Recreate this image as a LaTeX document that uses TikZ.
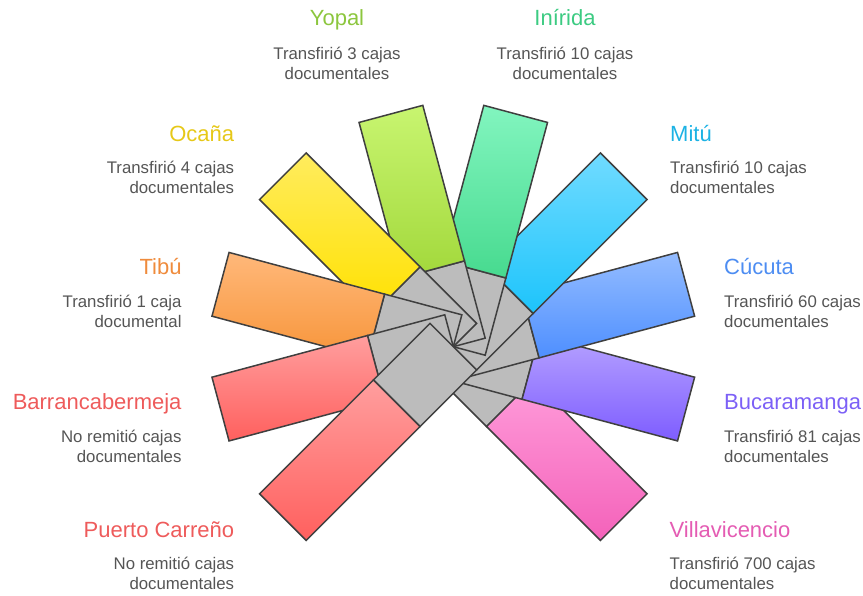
\documentclass[tikz,border=0pt]{standalone}
\usepackage{fontspec}
\setmainfont{Liberation Sans}
\usetikzlibrary{calc}
\definecolor{edgec}{HTML}{3F3F3F}
\definecolor{grayc}{HTML}{BCBCBC}
\definecolor{bodyc}{HTML}{555555}
\definecolor{yopT}{HTML}{C8F570}\definecolor{yopB}{HTML}{A2D83B}
\definecolor{iniT}{HTML}{82F5BF}\definecolor{iniB}{HTML}{47DA8F}
\definecolor{mitT}{HTML}{70DBFF}\definecolor{mitB}{HTML}{1DC4FB}
\definecolor{cucT}{HTML}{94BCFF}\definecolor{cucB}{HTML}{4E8FFF}
\definecolor{bucT}{HTML}{B6A2FF}\definecolor{bucB}{HTML}{7E5DFF}
\definecolor{vilT}{HTML}{FF9CDA}\definecolor{vilB}{HTML}{F462BA}
\definecolor{redT}{HTML}{FF9E9E}\definecolor{redB}{HTML}{FF605E}
\definecolor{tibT}{HTML}{FFB87A}\definecolor{tibB}{HTML}{F7953A}
\definecolor{ocaT}{HTML}{FFEC5E}\definecolor{ocaB}{HTML}{FFE100}
\definecolor{tYop}{HTML}{8CC63E}
\definecolor{tIni}{HTML}{3CCB82}
\definecolor{tOca}{HTML}{E6C818}
\definecolor{tMit}{HTML}{1CB2E4}
\definecolor{tTib}{HTML}{EF8B3C}
\definecolor{tCuc}{HTML}{4D8DF2}
\definecolor{tRed}{HTML}{EE5B5B}
\definecolor{tBuc}{HTML}{7C60F6}
\definecolor{tVil}{HTML}{E45CB3}
\newcommand\fanblade[4]{%
  \path[bladeedge, fill=grayc]
    ($(C)+(#1+90:33)$) coordinate (#2-a)
    -- ($(C)+(#1+90:33)+(#1:80)$) coordinate (#2-b)
    -- ($(C)+(#1-90:33)+(#1:80)$) coordinate (#2-c)
    -- ($(C)+(#1-90:33)$) coordinate (#2-d) -- cycle;
  \path[bladeedge, top color=#3, bottom color=#4]
    (#2-b) -- ($(C)+(#1+90:33)+(#1:241)$) coordinate (#2-e)
    -- ($(C)+(#1-90:33)+(#1:241)$) coordinate (#2-f)
    -- (#2-c) -- cycle;
}
\begin{document}
\begin{tikzpicture}[x=1pt,y=1pt,
  bladeedge/.style={draw=edgec, line width=1.5pt},
  ttl/.style={font=\fontsize{22}{26}\selectfont, inner sep=0pt},
  bdy/.style={font=\fontsize{16.8}{20}\selectfont, text=bodyc, inner sep=0pt}]
\useasboundingbox (0,0) rectangle (863,596);
\coordinate (C) at (453.3,249.3);
\fanblade{-45}{vil}{vilT}{vilB}
\fanblade{-15}{buc}{bucT}{bucB}
\fanblade{15}{cuc}{cucT}{cucB}
\fanblade{45}{mit}{mitT}{mitB}
\fanblade{75}{ini}{iniT}{iniB}
\fanblade{105}{yop}{yopT}{yopB}
\fanblade{135}{oca}{ocaT}{ocaB}
\fanblade{165}{tib}{tibT}{tibB}
\fanblade{195}{bar}{redT}{redB}
\fanblade{225}{pca}{redT}{redB}
% top labels
\node[ttl, text=tYop, anchor=base] (yopt) at (337,570) {Yopal};
\node[bdy, anchor=base] (yop1) at (337,536.5) {Transfirió 3 cajas};
\node[bdy, anchor=base] (yop2) at (337,516.5) {documentales};
\node[ttl, text=tIni, anchor=base] (init) at (565,570) {Inírida};
\node[bdy, anchor=base] (ini1) at (565,536.5) {Transfirió 10 cajas};
\node[bdy, anchor=base] (ini2) at (565,516.5) {documentales};
% left labels
\node[ttl, text=tOca, anchor=base east] (ocat) at (234.3,454.7) {Ocaña};
\node[bdy, anchor=base east] (oca1) at (234.3,422.2) {Transfirió 4 cajas};
\node[bdy, anchor=base east] (oca2) at (234.3,402.2) {documentales};
\node[ttl, text=tTib, anchor=base east] (tibt) at (181.7,321.3) {Tibú};
\node[bdy, anchor=base east] (tib1) at (181.7,288.2) {Transfirió 1 caja};
\node[bdy, anchor=base east] (tib2) at (181.7,268.2) {documental};
\node[ttl, text=tRed, anchor=base east] (bart) at (181.7,186.3) {Barrancabermeja};
\node[bdy, anchor=base east] (bar1) at (181.7,153.2) {No remitió cajas};
\node[bdy, anchor=base east] (bar2) at (181.7,133.2) {documentales};
\node[ttl, text=tRed, anchor=base east] (pcat) at (234.3,58.7) {Puerto Carreño};
\node[bdy, anchor=base east] (pca1) at (234.3,26.5) {No remitió cajas};
\node[bdy, anchor=base east] (pca2) at (234.3,6.5) {documentales};
% right labels
\node[ttl, text=tMit, anchor=base west] (mitt) at (670,454.7) {Mitú};
\node[bdy, anchor=base west] (mit1) at (670,422.2) {Transfirió 10 cajas};
\node[bdy, anchor=base west] (mit2) at (670,402.2) {documentales};
\node[ttl, text=tCuc, anchor=base west] (cuct) at (724,321.3) {Cúcuta};
\node[bdy, anchor=base west] (cuc1) at (724,288.2) {Transfirió 60 cajas};
\node[bdy, anchor=base west] (cuc2) at (724,268.2) {documentales};
\node[ttl, text=tBuc, anchor=base west] (buct) at (724,186.3) {Bucaramanga};
\node[bdy, anchor=base west] (buc1) at (724,153.2) {Transfirió 81 cajas};
\node[bdy, anchor=base west] (buc2) at (724,133.2) {documentales};
\node[ttl, text=tVil, anchor=base west] (vilt) at (669.5,58.7) {Villavicencio};
\node[bdy, anchor=base west] (vil1) at (669.5,26.5) {Transfirió 700 cajas};
\node[bdy, anchor=base west] (vil2) at (669.5,6.5) {documentales};
\end{tikzpicture}
\end{document}
